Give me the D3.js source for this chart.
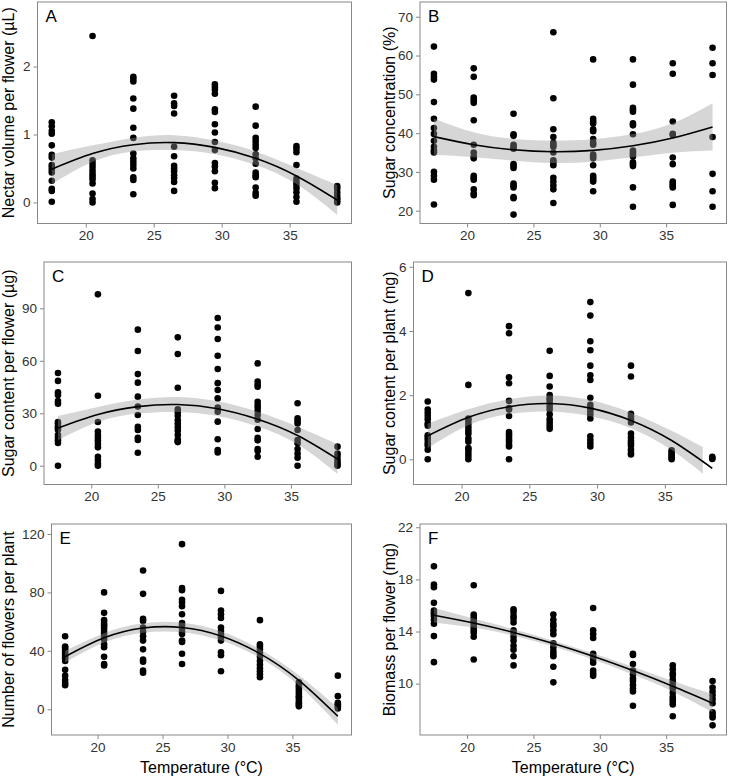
<!DOCTYPE html>
<html>
<head>
<meta charset="utf-8">
<script src="https://cdn.jsdelivr.net/npm/d3@7"></script>
<style>
  html, body { margin: 0; padding: 0; background: #fff; }
  svg { display: block; font-family: "Liberation Sans", Arial, Helvetica, sans-serif; }
</style>
</head>
<body>
<svg id="chart" width="730" height="778"></svg>
<script>
// ---------------- DATA ----------------
const temps = [17.5, 20.5, 23.5, 26.5, 29.5, 32.5, 35.5, 38.5];
const xTicks = [20, 25, 30, 35];

// A: Nectar volume per flower (µL)
const nectarVolume = [
  [1.18, 1.12, 1.05, 1.01, 0.84, 0.70, 0.66, 0.55, 0.52, 0.48, 0.44, 0.32, 0.20, 0.17, 0.01],
  [2.45, 0.62, 0.57, 0.52, 0.47, 0.42, 0.38, 0.34, 0.28, 0.13, 0.05, 0.00],
  [1.85, 1.82, 1.78, 1.53, 1.38, 1.10, 0.95, 0.72, 0.65, 0.60, 0.55, 0.50, 0.37, 0.33, 0.12],
  [1.57, 1.46, 1.42, 1.31, 0.82, 0.68, 0.54, 0.50, 0.46, 0.40, 0.36, 0.30, 0.17],
  [1.74, 1.70, 1.66, 1.60, 1.37, 1.33, 1.15, 1.03, 0.89, 0.77, 0.58, 0.53, 0.46, 0.29, 0.21],
  [1.41, 1.13, 0.95, 0.90, 0.85, 0.80, 0.71, 0.65, 0.57, 0.44, 0.40, 0.37, 0.22, 0.14, 0.10],
  [0.83, 0.79, 0.74, 0.55, 0.35, 0.30, 0.26, 0.21, 0.15, 0.08, 0.01],
  [0.24, 0.20, 0.15, 0.10, 0.06, 0.03, 0.00]
];
const nectarVolumeFit = [0.49, 0.72, 0.85, 0.88, 0.81, 0.65, 0.39, 0.035];
const nectarVolumeLo  = [0.27, 0.60, 0.75, 0.77, 0.71, 0.55, 0.27, -0.185];
const nectarVolumeHi  = [0.71, 0.84, 0.95, 0.99, 0.91, 0.75, 0.51, 0.255];

// B: Sugar concentration (%)
const sugarConc = [
  [62.3, 55.3, 54.5, 53.8, 48.0, 43.7, 41.3, 39.8, 38.0, 36.5, 35.5, 35.0, 30.0, 29.0, 28.0, 21.6],
  [56.7, 54.5, 49.2, 48.5, 47.8, 43.3, 37.0, 35.0, 34.0, 33.5, 29.0, 28.5, 28.0, 25.5, 24.5, 24.0],
  [45.0, 39.7, 39.3, 37.0, 36.5, 36.0, 32.0, 31.5, 31.0, 27.0, 26.5, 26.0, 23.5, 23.2, 19.0],
  [66.0, 49.0, 41.0, 39.0, 37.5, 37.0, 36.5, 35.0, 33.0, 32.5, 31.7, 28.5, 27.5, 26.5, 25.5, 22.0],
  [59.0, 43.7, 43.0, 42.5, 41.0, 40.5, 38.5, 37.5, 37.0, 34.5, 34.0, 33.5, 31.7, 29.0, 28.5, 28.0, 27.5, 25.0],
  [59.0, 52.5, 46.5, 46.0, 45.5, 42.5, 42.0, 39.7, 35.5, 35.0, 34.5, 34.0, 32.5, 32.0, 31.5, 26.0, 21.0],
  [58.0, 55.3, 43.0, 39.8, 39.5, 33.7, 32.0, 27.5, 27.0, 26.5, 26.0, 21.5],
  [62.0, 58.0, 55.0, 39.0, 29.5, 25.0, 21.0]
];
const sugarConcFit = [39.1, 37.0, 35.7, 35.2, 35.55, 36.75, 38.75, 41.6];
const sugarConcLo  = [34.4, 33.8, 32.9, 32.3, 32.65, 33.75, 34.95, 35.5];
const sugarConcHi  = [43.8, 40.2, 38.5, 38.1, 38.45, 39.75, 42.55, 47.7];

// C: Sugar content per flower (µg)
const sugarFlower = [
  [53, 48.5, 42, 40.5, 37, 35.5, 25, 24, 22.5, 21.5, 20.5, 17.5, 16, 14.5, 13, 0],
  [98, 40, 25, 19.5, 17.5, 16, 14.3, 12.4, 10.5, 5.1, 3.2, 1.3, 0],
  [77.8, 65.6, 52.4, 47.5, 39.5, 33.8, 29, 22.3, 20.4, 16, 14.7, 7.4],
  [73.4, 63.9, 44.6, 32.2, 30.5, 28.5, 26, 24, 22, 20, 17.5, 15, 14, 13.5],
  [84.5, 79, 72.5, 62.9, 55.3, 47.2, 43.3, 38.5, 33.2, 30.9, 25.2, 15.1, 9, 7.6],
  [58.5, 48.1, 46.5, 45.2, 36.6, 34.7, 33.2, 31.3, 29, 26.3, 21, 16, 14.5, 9.5, 8.4, 5.1],
  [35.7, 27.1, 25.6, 24.2, 20.4, 14.7, 12.8, 9.5, 7, 4.6, 0],
  [10.9, 7, 5.5, 3.5, 2, 0.5, 0]
];
const sugarFlowerFit = [21.5, 29.3, 33.8, 35.0, 32.6, 26.6, 17.3, 3.8];
const sugarFlowerLo  = [14.6, 25.0, 29.8, 30.7, 28.4, 22.4, 12.3, -4.7];
const sugarFlowerHi  = [28.4, 33.6, 37.8, 39.3, 36.8, 30.8, 22.3, 12.3];

// D: Sugar content per plant (mg)
const sugarPlant = [
  [1.8, 1.55, 1.45, 1.35, 1.25, 1.12, 1.05, 0.75, 0.68, 0.6, 0.5, 0.42, 0.3, 0],
  [5.18, 2.32, 1.27, 1.2, 1.1, 1.0, 0.9, 0.8, 0.65, 0.55, 0.35, 0.3, 0.2, 0.1, 0],
  [4.15, 3.93, 2.56, 2.37, 1.82, 1.6, 1.55, 1.35, 0.85, 0.78, 0.7, 0.62, 0.55, 0.45, 0.4, 0],
  [3.38, 2.6, 2.27, 2.0, 1.9, 1.85, 1.75, 1.65, 1.55, 1.4, 1.25, 1.15, 1.05, 0.95],
  [4.9, 4.48, 3.68, 3.4, 2.92, 2.62, 2.47, 1.92, 1.7, 1.6, 1.5, 1.4, 1.27, 0.72, 0.6, 0.5, 0.4],
  [2.92, 2.58, 1.42, 1.33, 1.25, 1.15, 0.8, 0.68, 0.58, 0.5, 0.42, 0.3, 0.2, 0.15],
  [0.28, 0.22, 0.15, 0.1, 0.05, 0],
  [0.08, 0.04, 0.01]
];
const sugarPlantFit = [0.73, 1.31, 1.64, 1.74, 1.595, 1.21, 0.586, -0.28];
const sugarPlantBandX = [17.5, 20.5, 23.5, 26.5, 29.5, 32.5, 35.5, 37.8];
const sugarPlantLo  = [0.35, 1.06, 1.41, 1.49, 1.345, 0.97, 0.29, -0.45];
const sugarPlantHi  = [1.11, 1.56, 1.87, 1.99, 1.845, 1.45, 0.89, 0.38];

// E: Number of flowers per plant
const flowers = [
  [50, 43, 42, 40.5, 39, 37.5, 36, 35, 33, 27, 23, 20, 18, 16.5],
  [80, 66, 61, 59, 57.5, 56, 54, 52, 50, 48, 44.5, 42.5, 36, 31, 30],
  [95, 79, 62, 60.5, 56, 53, 50, 47, 41, 34, 32.5, 26.5, 25],
  [113, 83, 81.5, 75, 73, 70.5, 65, 59, 57.5, 55.5, 53, 51.5, 47, 46, 38, 31],
  [81, 67.5, 65, 62.5, 56, 53.5, 51, 49, 47, 39, 37, 26],
  [61, 44.5, 43, 41, 38.5, 36, 33, 30.5, 28, 26, 24, 22],
  [18.5, 16.5, 15, 13.5, 12, 10.5, 9, 8, 6.5, 5, 4, 3, 2],
  [23, 9, 4.5, 3.5, 2.5, 1.5, 0.5]
];
const flowersFit = [36.0, 48.9, 55.6, 56.0, 50.2, 38.1, 19.8, -4.8];
const flowersLo  = [32.0, 45.7, 52.4, 52.7, 47.0, 35.1, 16.3, -10.6];
const flowersHi  = [40.0, 52.1, 58.8, 59.3, 53.4, 41.1, 23.3, 1.0];

// F: Biomass per flower (mg)
const biomass = [
  [19.0, 17.6, 17.4, 16.2, 15.6, 15.4, 15.2, 14.9, 14.6, 13.65, 11.65],
  [17.55, 15.3, 15.1, 14.9, 14.7, 14.5, 14.3, 14.1, 13.9, 13.6, 11.85],
  [15.7, 15.5, 15.2, 15.0, 14.7, 14.1, 13.9, 13.6, 13.3, 12.9, 12.6, 12.1, 11.4],
  [15.3, 14.9, 14.6, 14.4, 14.1, 13.8, 13.1, 12.8, 12.5, 12.3, 12.1, 11.3, 10.1],
  [15.8, 14.1, 13.8, 13.5, 12.3, 12.1, 11.9, 11.6, 11.0, 10.8, 10.6],
  [12.3, 12.2, 11.5, 11.0, 10.7, 10.4, 10.2, 9.9, 9.6, 9.4, 8.3],
  [11.4, 11.1, 10.8, 10.6, 10.3, 10.1, 9.8, 9.6, 9.3, 9.0, 8.8, 8.6, 8.4, 7.5],
  [10.2, 9.7, 9.4, 9.1, 8.8, 8.5, 7.8, 7.6, 7.4, 6.8]
];
const biomassFit = [15.25, 14.65, 13.93, 13.08, 12.1, 11.0, 9.8, 8.5];
const biomassLo  = [14.7, 14.3, 13.68, 12.86, 11.86, 10.7, 9.4, 7.8];
const biomassHi  = [15.8, 15.0, 14.18, 13.3, 12.34, 11.3, 10.2, 9.2];

// ---------------- LAYOUT ----------------
const panels = [
  { letter: "A", title: "Nectar volume per flower (\u00b5L)", data: nectarVolume, fit: nectarVolumeFit, lo: nectarVolumeLo, hi: nectarVolumeHi,
    box: [37.5, 2, 351.5, 223.5], yDomain: [-0.31, 2.95], yTicks: [0, 1, 2], titleX: 14, xTitle: false },
  { letter: "B", title: "Sugar concentration (%)", data: sugarConc, fit: sugarConcFit, lo: sugarConcLo, hi: sugarConcHi,
    box: [420, 2, 726.5, 223.5], yDomain: [16.7, 73.8], yTicks: [20, 30, 40, 50, 60, 70], titleX: 395, xTitle: false },
  { letter: "C", title: "Sugar content per flower (\u00b5g)", data: sugarFlower, fit: sugarFlowerFit, lo: sugarFlowerLo, hi: sugarFlowerHi,
    box: [44, 262, 351.5, 484.5], yDomain: [-10.75, 116.5], yTicks: [0, 30, 60, 90], titleX: 14, xTitle: false },
  { letter: "D", title: "Sugar content per plant (mg)", data: sugarPlant, fit: sugarPlantFit, lo: sugarPlantLo, hi: sugarPlantHi, bandX: sugarPlantBandX,
    box: [413.5, 262, 726.5, 484.5], yDomain: [-0.785, 6.15], yTicks: [0, 2, 4, 6], titleX: 395, xTitle: false },
  { letter: "E", title: "Number of flowers per plant", data: flowers, fit: flowersFit, lo: flowersLo, hi: flowersHi,
    box: [51.5, 524, 351.5, 735], yDomain: [-17.6, 126.8], yTicks: [0, 40, 80, 120], titleX: 14, xTitle: true },
  { letter: "F", title: "Biomass per flower (mg)", data: biomass, fit: biomassFit, lo: biomassLo, hi: biomassHi,
    box: [420, 524, 726.5, 735], yDomain: [6.06, 22.25], yTicks: [10, 14, 18, 22], titleX: 395, xTitle: true }
];

const svg = d3.select("#chart");
const axisGrey = "#888888";
const tickTextColor = "#333333";
const fmt = d3.format("d");

panels.forEach((p, i) => {
  const [x0, y0, x1, y1] = p.box;
  const x = d3.scaleLinear().domain([16.45, 39.55]).range([x0, x1]);
  const y = d3.scaleLinear().domain(p.yDomain).range([y1, y0]);

  const g = svg.append("g");
  const clipId = "clip" + i;
  g.append("clipPath").attr("id", clipId)
    .append("rect").attr("x", x0).attr("y", y0).attr("width", x1 - x0).attr("height", y1 - y0);

  const plot = g.append("g").attr("clip-path", `url(#${clipId})`);

  // points
  const pts = [];
  p.data.forEach((vals, gi) => vals.forEach(v => pts.push([temps[gi], v])));
  plot.selectAll("circle").data(pts).join("circle")
    .attr("cx", d => x(d[0])).attr("cy", d => y(d[1])).attr("r", 3.3)
    .attr("fill", "#000");

  // confidence band
  const bx = p.bandX || temps;
  const bandData = bx.map((t, k) => ({ t, lo: p.lo[k], hi: p.hi[k] }));
  plot.append("path").datum(bandData)
    .attr("d", d3.area().x(d => x(d.t)).y0(d => y(d.lo)).y1(d => y(d.hi)).curve(d3.curveNatural))
    .attr("fill", "#999999").attr("fill-opacity", 0.4).attr("stroke", "none");

  // fit line
  const fitData = temps.map((t, k) => ({ t, v: p.fit[k] }));
  plot.append("path").datum(fitData)
    .attr("d", d3.line().x(d => x(d.t)).y(d => y(d.v)).curve(d3.curveNatural))
    .attr("fill", "none").attr("stroke", "#000").attr("stroke-width", 1.6);

  // axes
  const xAxis = d3.axisBottom(x).tickValues(xTicks).tickFormat(fmt).tickSize(4).tickPadding(3).tickSizeOuter(0);
  const gx = g.append("g").attr("transform", `translate(0,${y1})`).call(xAxis);
  const yAxis = d3.axisLeft(y).tickValues(p.yTicks).tickFormat(fmt).tickSize(4).tickPadding(3).tickSizeOuter(0);
  const gy = g.append("g").attr("transform", `translate(${x0},0)`).call(yAxis);
  [gx, gy].forEach(ax => {
    ax.select(".domain").remove();
    ax.selectAll(".tick line").attr("stroke", axisGrey);
    ax.selectAll(".tick text").attr("fill", tickTextColor)
      .style("font-size", "13.5px").style("font-family", "'Liberation Sans', Arial, sans-serif");
  });

  // panel border
  g.append("rect").attr("x", x0).attr("y", y0).attr("width", x1 - x0).attr("height", y1 - y0)
    .attr("fill", "none").attr("stroke", axisGrey).attr("stroke-width", 1);

  // panel letter
  g.append("text").attr("x", x0 + 8).attr("y", y0 + 19.5)
    .style("font-size", "17px").attr("fill", "#000").text(p.letter);

  // y title
  g.append("text")
    .attr("transform", `translate(${p.titleX},${(y0 + y1) / 2}) rotate(-90)`)
    .attr("text-anchor", "middle")
    .style("font-size", "16px").attr("fill", "#000").text(p.title);

  // x title
  if (p.xTitle) {
    g.append("text").attr("x", (x0 + x1) / 2).attr("y", 773)
      .attr("text-anchor", "middle")
      .style("font-size", "16px").attr("fill", "#000").text("Temperature (\u00b0C)");
  }
});
</script>
</body>
</html>
